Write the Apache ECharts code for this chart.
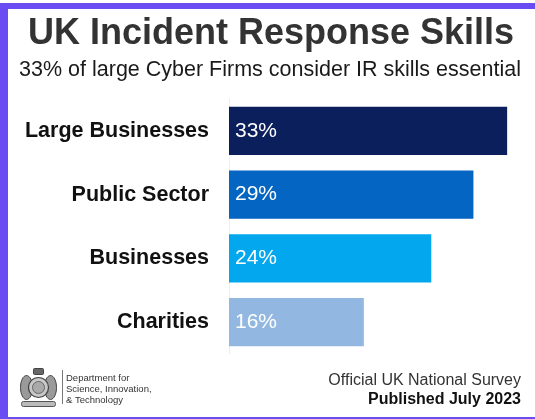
<!DOCTYPE html>
<html>
<head>
<meta charset="utf-8">
<script src="https://cdn.jsdelivr.net/npm/echarts@6/dist/echarts.min.js"></script>
<style>
html,body{margin:0;padding:0;background:#fff;}
#chart{width:535px;height:419px;}
</style>
</head>
<body>
<div id="chart"></div>
<script>
const categories = ['Large Businesses', 'Public Sector', 'Businesses', 'Charities'];
const values = [33, 29, 24, 16];
const barColors = ['#0a1f5c', '#0565c2', '#03a7ee', '#92b8e2'];
const titleText = 'UK Incident Response Skills';
const subtitleText = '33% of large Cyber Firms consider IR skills essential';
const footerLines = ['Official UK National Survey', 'Published July 2023'];
const logoLines = ['Department for', 'Science, Innovation,', '& Technology'];

const FONT = 'Liberation Sans, Arial, Helvetica, sans-serif';
const PURPLE = '#6a4cf3';

const chart = echarts.init(document.getElementById('chart'), null, {renderer: 'canvas'});

const option = {
  backgroundColor: '#ffffff',
  animation: false,
  title: [
    {
      text: titleText,
      left: 271, top: 16, textAlign: 'center', padding: 0,
      textStyle: {fontFamily: FONT, fontSize: 36, fontWeight: 'bold', color: '#333333'}
    },
    {
      text: subtitleText,
      left: 270, top: 59, textAlign: 'center', padding: 0,
      textStyle: {fontFamily: FONT, fontSize: 21.5, fontWeight: 'normal', color: '#1a1a1a'}
    }
  ],
  grid: {left: 229, top: 99, bottom: 65, right: 11, containLabel: false},
  xAxis: {
    type: 'value', min: 0, max: 35,
    show: false
  },
  yAxis: {
    type: 'category', data: categories, inverse: true,
    axisLine: {show: true, lineStyle: {color: '#eeeeee', width: 1}},
    axisTick: {show: false},
    axisLabel: {
      margin: 20, fontFamily: FONT, fontSize: 21.5, fontWeight: 'bold', color: '#111111'
    }
  },
  series: [{
    type: 'bar',
    data: values.map((v, i) => ({value: v, itemStyle: {color: barColors[i]}})),
    barCategoryGap: '24%',
    label: {
      show: true, position: 'insideLeft', distance: 6,
      formatter: p => p.value + '%',
      fontFamily: FONT, fontSize: 21, color: '#ffffff'
    }
  }],
  graphic: [
    // frame
    {type: 'rect', shape: {x: 0, y: 3, width: 535, height: 6}, style: {fill: PURPLE}, silent: true},
    {type: 'rect', shape: {x: 0, y: 3, width: 8, height: 416}, style: {fill: PURPLE}, silent: true},
    {type: 'rect', shape: {x: 0, y: 417, width: 535, height: 2}, style: {fill: PURPLE}, silent: true},
    // footer text
    {type: 'text', right: 14, top: 373,
      style: {text: footerLines[0], font: '16px ' + FONT, fill: '#333333'}},
    {type: 'text', right: 14, top: 392,
      style: {text: footerLines[1], font: 'bold 16px ' + FONT, fill: '#111111'}},
    // logo crest (simplified)
    {type: 'group', left: 20, top: 368, children: [
      {type: 'rect', shape: {x: 14, y: 0, width: 10, height: 6, r: 1}, style: {fill: '#666', stroke: '#444', lineWidth: 1}},
      {type: 'ellipse', shape: {cx: 7, cy: 19, rx: 6, ry: 12}, style: {fill: '#9a9a9a', stroke: '#444', lineWidth: 1}},
      {type: 'ellipse', shape: {cx: 31, cy: 19, rx: 6, ry: 12}, style: {fill: '#9a9a9a', stroke: '#444', lineWidth: 1}},
      {type: 'circle', shape: {cx: 19, cy: 19, r: 10}, style: {fill: '#c8c8c8', stroke: '#444', lineWidth: 1.2}},
      {type: 'circle', shape: {cx: 19, cy: 19, r: 6}, style: {fill: '#aaaaaa', stroke: '#666', lineWidth: 1}},
      {type: 'rect', shape: {x: 2, y: 33, width: 34, height: 5, r: 2}, style: {fill: '#bbb', stroke: '#555', lineWidth: 1}}
    ]},
    {type: 'line', shape: {x1: 62.5, y1: 370, x2: 62.5, y2: 404}, style: {stroke: '#777', lineWidth: 1}},
    {type: 'text', left: 66, top: 373, style: {text: logoLines[0], font: '9.5px ' + FONT, fill: '#333'}},
    {type: 'text', left: 66, top: 384, style: {text: logoLines[1], font: '9.5px ' + FONT, fill: '#333'}},
    {type: 'text', left: 66, top: 395, style: {text: logoLines[2], font: '9.5px ' + FONT, fill: '#333'}}
  ]
};

chart.setOption(option);
</script>
</body>
</html>
